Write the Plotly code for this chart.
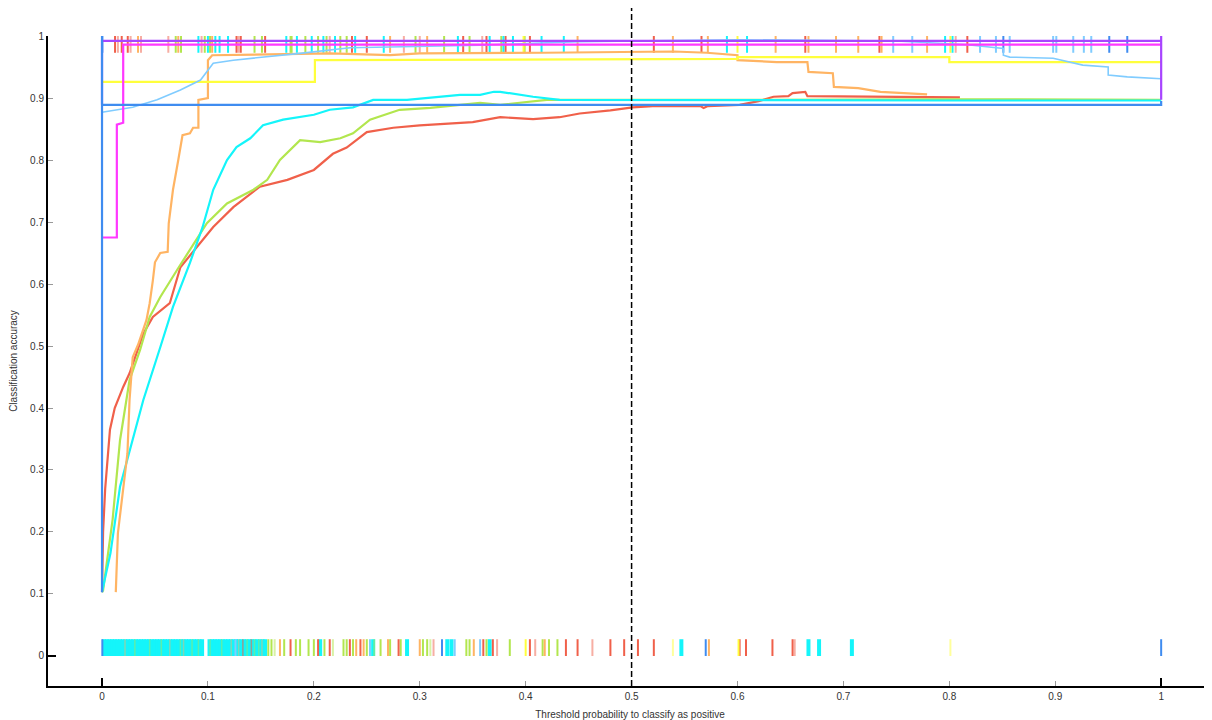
## threshold_plot.py
# Classification accuracy vs. threshold, with rugs of predicted probabilities

import plotly.graph_objects as go

## Colours
RED = "#f0604a"
GREEN = "#b2e64e"
CYAN = "#14f5fa"
ORANGE = "#ffb463"
YELLOW = "#ffff3c"
LBLUE = "#80ccff"
BLUE = "#3f8cf0"
MAGENTA = "#ff38ff"
PURPLE = "#a844ff"

## Curves (threshold, accuracy)
red_x = [0, 0.001, 0.003, 0.006, 0.0075, 0.012, 0.02, 0.026, 0.039, 0.048, 0.064, 0.074,
         0.093, 0.105, 0.124, 0.149, 0.175, 0.2, 0.218, 0.231, 0.25, 0.275, 0.3, 0.325,
         0.35, 0.376, 0.407, 0.432, 0.451, 0.48, 0.501, 0.52, 0.565, 0.568, 0.572, 0.602,
         0.62, 0.634, 0.648, 0.652, 0.664, 0.666, 0.75, 0.81]
red_y = [0.103, 0.2, 0.27, 0.33, 0.365, 0.40, 0.434, 0.456, 0.52, 0.547, 0.569, 0.627,
         0.666, 0.692, 0.724, 0.757, 0.768, 0.784, 0.81, 0.82, 0.845, 0.852, 0.856, 0.858,
         0.861, 0.869, 0.866, 0.869, 0.875, 0.88, 0.885, 0.887, 0.887, 0.884, 0.887, 0.889,
         0.895, 0.902, 0.903, 0.908, 0.91, 0.903, 0.902, 0.901]

green_x = [0, 0.001, 0.01, 0.017, 0.026, 0.036, 0.045, 0.055, 0.071, 0.083, 0.099, 0.118,
           0.143, 0.156, 0.168, 0.187, 0.206, 0.225, 0.237, 0.253, 0.281, 0.31, 0.341,
           0.357, 0.376, 0.42, 0.6, 0.8, 1.0]
green_y = [0.103, 0.106, 0.22, 0.348, 0.445, 0.494, 0.547, 0.579, 0.623, 0.655, 0.698, 0.73,
           0.752, 0.768, 0.8, 0.832, 0.829, 0.835, 0.843, 0.865, 0.881, 0.884, 0.889,
           0.892, 0.889, 0.897, 0.897, 0.898, 0.897]

cyan_x = [0, 0.008, 0.017, 0.026, 0.039, 0.055, 0.067, 0.083, 0.095, 0.105, 0.118, 0.127,
          0.14, 0.152, 0.171, 0.2, 0.215, 0.237, 0.256, 0.288, 0.307, 0.338, 0.357, 0.37,
          0.376, 0.407, 0.432, 0.6, 0.8, 1.0]
cyan_y = [0.103, 0.166, 0.273, 0.332, 0.413, 0.498, 0.563, 0.634, 0.692, 0.752, 0.8, 0.821,
          0.835, 0.856, 0.865, 0.873, 0.881, 0.885, 0.897, 0.897, 0.9, 0.905, 0.905, 0.91,
          0.91, 0.902, 0.897, 0.896, 0.896, 0.896]

orange_x = [0.013, 0.015, 0.024, 0.026, 0.029, 0.034, 0.042, 0.045, 0.048, 0.05, 0.055, 0.062,
            0.063, 0.067, 0.072, 0.076, 0.083, 0.086, 0.091, 0.091, 0.1, 0.1, 0.104, 0.215,
            0.272, 0.3, 0.417, 0.499, 0.54, 0.571, 0.6, 0.6, 0.637, 0.666, 0.667, 0.69,
            0.691, 0.714, 0.735, 0.779]
orange_y = [0.103, 0.198, 0.327, 0.413, 0.482, 0.502, 0.542, 0.569, 0.606, 0.635, 0.65, 0.652,
            0.698, 0.752, 0.8, 0.84, 0.843, 0.852, 0.852, 0.897, 0.9, 0.961, 0.969, 0.972,
            0.969, 0.972, 0.973, 0.974, 0.975, 0.973, 0.969, 0.961, 0.958, 0.958, 0.942, 0.94,
            0.918, 0.916, 0.91, 0.906]

yellow_x = [0, 0.201, 0.201, 0.4, 0.6, 0.6, 0.8, 0.8, 1.0]
yellow_y = [0.926, 0.926, 0.961, 0.962, 0.963, 0.966, 0.966, 0.958, 0.958]

lblue_x = [0, 0.029, 0.052, 0.074, 0.093, 0.105, 0.124, 0.156, 0.187, 0.234, 0.357, 0.45,
           0.6, 0.75, 0.817, 0.851, 0.851, 0.857, 0.898, 0.926, 0.95, 0.95, 0.968, 1.0]
lblue_y = [0.877, 0.885, 0.897, 0.913, 0.929, 0.956, 0.961, 0.966, 0.972, 0.981, 0.985, 0.991,
           0.994, 0.992, 0.986, 0.98, 0.969, 0.966, 0.964, 0.953, 0.95, 0.937, 0.934, 0.931]

magenta_x = [0, 0.014, 0.014, 0.02, 0.02, 1.0]
magenta_y = [0.675, 0.675, 0.857, 0.86, 0.986, 0.986]

purple_x = [0, 0, 1.0, 1.0, 1.0]
purple_y = [0.889, 0.992, 0.992, 1.0, 0.897]

blue_x = [0, 0, 0, 1.0, 1.0]
blue_y = [0.103, 1.0, 0.889, 0.889, 0.895]

## Rugs: top (positive instances), bottom (negative instances)
top_red = [0.0123, 0.0186, 0.0243, 0.127, 0.131, 0.154, 0.236, 0.25, 0.341, 0.363, 0.381,
           0.404, 0.521, 0.566, 0.664, 0.734, 0.817]
top_pale_red = [0.015, 0.027, 0.0368, 0.0626, 0.094, 0.129, 0.215, 0.285, 0.3, 0.359, 0.806]
top_green = [0.0696, 0.0746, 0.097, 0.102, 0.144, 0.151, 0.178, 0.179, 0.192, 0.204, 0.212,
             0.225, 0.231, 0.296, 0.323, 0.347, 0.377, 0.399]
top_cyan = [0.091, 0.100, 0.107, 0.111, 0.119, 0.174, 0.184, 0.198, 0.209, 0.22, 0.239, 0.266,
            0.336, 0.366, 0.379, 0.388, 0.415, 0.436, 0.59, 0.609, 0.796, 0.803]
top_orange = [0.034, 0.072, 0.104, 0.272, 0.307, 0.449, 0.539, 0.572, 0.636, 0.667, 0.693,
              0.714, 0.736, 0.779]
top_yellow = [0.398, 0.6, 0.801]
top_lblue = [0.747, 0.765, 0.829, 0.844, 0.857, 0.898, 0.901, 0.917, 0.927, 0.934]
top_blue = [0.0003, 0.851, 0.951, 0.968]

# dense block of negatives near zero
bot_cyan = [0.002, 0.0045, 0.007, 0.0095, 0.012, 0.0145, 0.017, 0.0195, 0.022, 0.0245, 0.027,
            0.0295, 0.032, 0.0345, 0.037, 0.0395, 0.042, 0.0445, 0.047, 0.0495, 0.052, 0.0545,
            0.057, 0.0595, 0.062, 0.0645, 0.067, 0.0695, 0.072, 0.0745, 0.077, 0.0795, 0.082,
            0.0845, 0.087, 0.0895, 0.092, 0.0945, 0.1015, 0.104, 0.1065, 0.109, 0.1115, 0.114,
            0.1165, 0.119, 0.1215, 0.124, 0.1265, 0.129, 0.1315, 0.134, 0.1365, 0.139, 0.1415,
            0.144, 0.1465, 0.149, 0.1515, 0.154, 0.206, 0.256, 0.288, 0.326, 0.33,
            0.366, 0.547, 0.667, 0.677, 0.708]
bot_green_in = [0.031, 0.045, 0.056, 0.074, 0.085, 0.091, 0.102, 0.113, 0.137, 0.144, 0.148]
bot_orange_in = [0.0217, 0.064, 0.077, 0.122, 0.129, 0.151]
bot_red_in = [0.133, 0.141]
bot_green = [0.157, 0.16, 0.172, 0.183, 0.187, 0.195, 0.2, 0.21, 0.228, 0.231, 0.237, 0.25,
             0.263, 0.272, 0.282, 0.303, 0.307, 0.344, 0.347, 0.363, 0.385, 0.416, 0.422, 0.43]
bot_pale_green = [0.163, 0.218, 0.257, 0.31]
bot_orange = [0.168, 0.24, 0.247, 0.27, 0.3, 0.351, 0.418, 0.573]
bot_red = [0.178, 0.204, 0.215, 0.234, 0.244, 0.28, 0.36, 0.369, 0.404, 0.438,
           0.449, 0.48, 0.493, 0.506, 0.521, 0.602, 0.608, 0.633, 0.652]
bot_pale_red = [0.313, 0.373, 0.409, 0.463, 0.654]
bot_yellow = [0.4, 0.601]
bot_pale_yellow = [0.539, 0.801]
bot_lblue = [0.126, 0.253, 0.333, 0.357]
bot_blue = [0.0003, 0.321, 0.57, 1.0]

## Axis ticks
x_ticks = [0, 0.1, 0.2, 0.3, 0.4, 0.5, 0.6, 0.7, 0.8, 0.9, 1]
x_labels = ["0", "0.1", "0.2", "0.3", "0.4", "0.5", "0.6", "0.7", "0.8", "0.9", "1"]
y_ticks = [0, 0.1, 0.2, 0.3, 0.4, 0.5, 0.6, 0.7, 0.8, 0.9, 1]
y_labels = ["0", "0.1", "0.2", "0.3", "0.4", "0.5", "0.6", "0.7", "0.8", "0.9", "1"]
end_ticks = [0, 1]

TOP_Y = 0.9865
BOT_Y = 0.0135
FONT = "Liberation Sans Narrow, Liberation Sans, Arial, sans-serif"


def rug(xs, y, color, width=2, opacity=1.0):
    return go.Scatter(x=xs, y=[y] * len(xs), mode="markers", cliponaxis=False,
                      hoverinfo="skip", opacity=opacity,
                      marker=dict(symbol="line-ns", size=12,
                                  line=dict(color=color, width=width)))


def curve(xs, ys, color, width=2.2):
    return go.Scatter(x=xs, y=ys, mode="lines", hoverinfo="skip",
                      line=dict(color=color, width=width))


fig = go.Figure()

# rugs underneath the curves
fig.add_trace(rug(top_pale_red, TOP_Y, RED, opacity=0.5))
fig.add_trace(rug(top_red, TOP_Y, RED))
fig.add_trace(rug(top_green, TOP_Y, GREEN))
fig.add_trace(rug(top_cyan, TOP_Y, CYAN))
fig.add_trace(rug(top_orange, TOP_Y, ORANGE))
fig.add_trace(rug(top_yellow, TOP_Y, YELLOW))
fig.add_trace(rug(top_lblue, TOP_Y, LBLUE))
fig.add_trace(rug(top_blue, TOP_Y, BLUE))

fig.add_trace(rug(bot_cyan, BOT_Y, CYAN, width=4))
fig.add_trace(rug(bot_green_in, BOT_Y, GREEN, width=1.5, opacity=0.45))
fig.add_trace(rug(bot_orange_in, BOT_Y, ORANGE, width=1.5, opacity=0.45))
fig.add_trace(rug(bot_red_in, BOT_Y, RED, width=1.5, opacity=0.6))
fig.add_trace(rug(bot_green, BOT_Y, GREEN))
fig.add_trace(rug(bot_pale_green, BOT_Y, GREEN, opacity=0.5))
fig.add_trace(rug(bot_orange, BOT_Y, ORANGE))
fig.add_trace(rug(bot_red, BOT_Y, RED))
fig.add_trace(rug(bot_pale_red, BOT_Y, RED, opacity=0.5))
fig.add_trace(rug(bot_yellow, BOT_Y, YELLOW))
fig.add_trace(rug(bot_pale_yellow, BOT_Y, YELLOW, opacity=0.5))
fig.add_trace(rug(bot_lblue, BOT_Y, LBLUE))
fig.add_trace(rug(bot_blue, BOT_Y, BLUE))

# accuracy curves
fig.add_trace(curve(red_x, red_y, RED))
fig.add_trace(curve(green_x, green_y, GREEN))
fig.add_trace(curve(cyan_x, cyan_y, CYAN))
fig.add_trace(curve(orange_x, orange_y, ORANGE))
fig.add_trace(curve(yellow_x, yellow_y, YELLOW))
fig.add_trace(curve(lblue_x, lblue_y, LBLUE, width=1.6))
fig.add_trace(curve(magenta_x, magenta_y, MAGENTA))
fig.add_trace(curve(purple_x, purple_y, PURPLE))
fig.add_trace(curve(blue_x, blue_y, BLUE))

# empty trace carrying the overlay axes (black end ticks)
fig.add_trace(go.Scatter(x=end_ticks, y=end_ticks, xaxis="x2", yaxis="y2",
                         mode="markers", marker=dict(opacity=0), hoverinfo="skip"))

# default threshold
fig.add_shape(type="line", xref="x", yref="paper", x0=0.5, x1=0.5, y0=0, y1=1.048,
              line=dict(color="black", width=1.5, dash="6px,3px"))

x_range = [-0.051, 1.048]
y_range = [-0.0484, 1.0]

# page body adds an 8px offset, margins compensate for it
fig.update_layout(
    width=1212, height=720,
    margin=dict(l=40, r=8, t=28, b=42, autoexpand=False),
    plot_bgcolor="white", paper_bgcolor="white",
    showlegend=False,
    font=dict(family=FONT, size=10, color="#333333"),
    xaxis=dict(range=x_range, tickvals=x_ticks, ticktext=x_labels,
               ticks="inside", ticklen=5, tickwidth=1, tickcolor="#999999",
               showline=True, linecolor="black", linewidth=2,
               showgrid=False, zeroline=False, automargin=False,
               title=dict(text="Threshold probability to classify as positive",
                          font=dict(size=10), standoff=10)),
    yaxis=dict(range=y_range, tickvals=y_ticks, ticktext=y_labels,
               ticks="inside", ticklen=5, tickwidth=1, tickcolor="#999999",
               showline=True, linecolor="black", linewidth=2,
               showgrid=False, zeroline=False, automargin=False,
               title=dict(text="Classification accuracy", font=dict(size=10),
                          standoff=12)),
    xaxis2=dict(range=x_range, overlaying="x", side="bottom", tickvals=end_ticks,
                ticks="inside", ticklen=8, tickwidth=2, tickcolor="black",
                showticklabels=False, showline=False, showgrid=False, zeroline=False),
    yaxis2=dict(range=y_range, overlaying="y", side="left", tickvals=end_ticks,
                ticks="inside", ticklen=8, tickwidth=2, tickcolor="black",
                showticklabels=False, showline=False, showgrid=False, zeroline=False),
)

fig.write_html("out.html")
